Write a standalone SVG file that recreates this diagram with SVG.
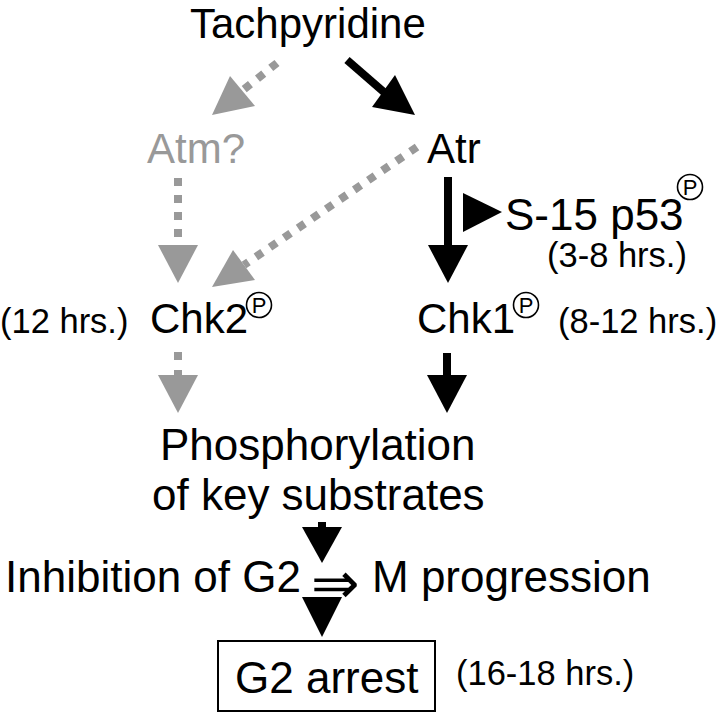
<svg xmlns="http://www.w3.org/2000/svg" width="720" height="713" viewBox="0 0 720 713">
<style>
text{font-family:"Liberation Sans",Arial,sans-serif;fill:#000}
.big{font-size:42px}
.lg{font-size:44px}
.sm{font-size:34.5px}
.gray{fill:#999}
.p{font-size:22px;text-anchor:middle}
.pc{fill:none;stroke:#000;stroke-width:1.6}
.bl{stroke:#000;stroke-width:8;fill:none}
.gd{stroke:#999;stroke-width:8;fill:none;stroke-dasharray:8 9}
.ah{fill:#000}
.gh{fill:#999}
</style>
<rect width="720" height="713" fill="#fff"/>
<g id="connectors">
  <line class="gd" x1="277" y1="63" x2="242" y2="91"/>
  <polygon class="gh" points="230,76 255,106 212,115"/>
  <line class="bl" x1="347" y1="60" x2="385" y2="93"/>
  <polygon class="ah" points="395,75 372,107 415,115"/>
  <line class="gd" x1="178" y1="178" x2="178" y2="245"/>
  <polygon class="gh" points="158,245 198,245 178,283"/>
  <line class="gd" x1="417" y1="147" x2="244" y2="265"/>
  <polygon class="gh" points="233,250 255,280 212,287"/>
  <line class="bl" x1="448" y1="177" x2="448" y2="247"/>
  <polygon class="ah" points="428,245 468,245 448,283"/>
  <polygon class="ah" points="463,193 463,232 502,212"/>
  <line class="gd" x1="178" y1="352" x2="178" y2="377" style="stroke-dasharray:8 10"/>
  <polygon class="gh" points="158,375 198,375 178,413"/>
  <line class="bl" x1="447" y1="353" x2="447" y2="377"/>
  <polygon class="ah" points="427,375 467,375 447,413"/>
  <line class="bl" x1="322" y1="522" x2="322" y2="529"/>
  <polygon class="ah" points="302,527 342,527 322,563"/>
  <polygon class="ah" points="302,597 342,597 322,637"/>
</g>
<g id="tachpyridine"><text class="big" x="190" y="38">Tachpyridine</text></g>
<g id="atm"><text class="big gray" x="147" y="163">Atm?</text></g>
<g id="atr"><text class="big" x="427" y="163">Atr</text></g>
<g id="p53">
  <text class="lg" x="505" y="230">S-15 p53</text>
  <circle class="pc" cx="690" cy="187" r="12.5"/>
  <text class="p" x="690" y="195">P</text>
  <text class="sm" x="547" y="267">(3-8 hrs.)</text>
</g>
<g id="chk2">
  <text class="sm" x="0" y="333">(12 hrs.)</text>
  <text class="big" x="150" y="333">Chk2</text>
  <circle class="pc" cx="259" cy="305" r="12.5"/>
  <text class="p" x="259" y="313">P</text>
</g>
<g id="chk1">
  <text class="big" x="417" y="333">Chk1</text>
  <circle class="pc" cx="526" cy="305" r="12.5"/>
  <text class="p" x="526" y="313">P</text>
  <text class="sm" x="558" y="333">(8-12 hrs.)</text>
</g>
<g id="phosphorylation">
  <text class="lg" x="160" y="460">Phosphorylation</text>
  <text class="lg" x="152" y="510">of key substrates</text>
</g>
<g id="inhibition">
  <text class="lg" x="5" y="592">Inhibition of G2</text>
  <text x="311" y="603" style="font-family:'DejaVu Sans',sans-serif;font-size:58px">⇒</text>
  <text class="lg" x="372" y="592">M progression</text>
</g>
<g id="g2arrest">
  <rect x="218" y="641" width="217" height="70" fill="none" stroke="#000" stroke-width="2"/>
  <text class="lg" x="235" y="693">G2 arrest</text>
  <text class="sm" x="456" y="685">(16-18 hrs.)</text>
</g>
</svg>
